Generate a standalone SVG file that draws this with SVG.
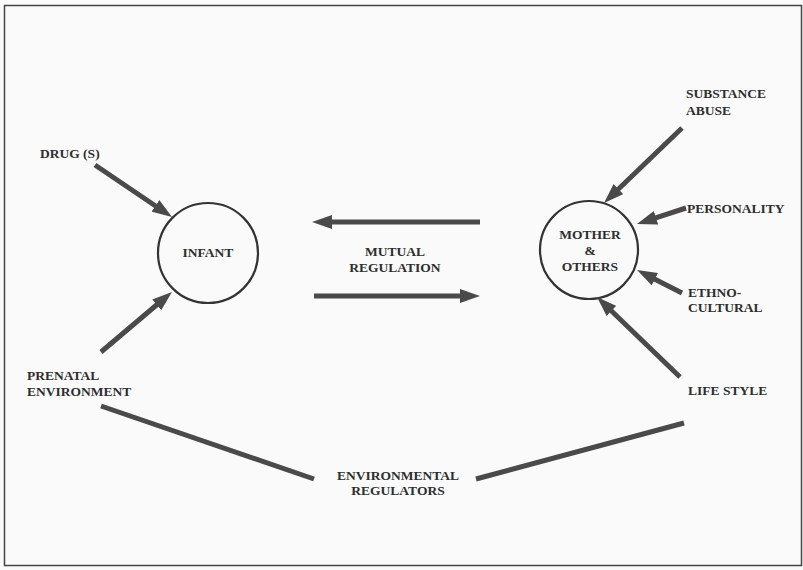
<svg xmlns="http://www.w3.org/2000/svg" width="803" height="570" viewBox="0 0 803 570">
<style>
text{font-family:"Liberation Serif","Times New Roman",serif;font-weight:bold;font-size:13.5px;fill:#2e2e2e}
.c{text-anchor:middle}
.node{fill:none;stroke:#333;stroke-width:2.2}
.arr{stroke:#4a4a4a;stroke-width:5;fill:none;marker-end:url(#ah)}
.ln{stroke:#4a4a4a;stroke-width:5;fill:none}
</style>
<defs>
<marker id="ah" markerUnits="userSpaceOnUse" viewBox="0 0 20 14" markerWidth="20" markerHeight="14" refX="6" refY="7" orient="auto">
<path d="M0,0 L20,7 L0,14 Z" fill="#4a4a4a"/>
</marker>
</defs>
<rect x="0" y="0" width="803" height="570" fill="#fafafa"/>
<rect x="4.5" y="5.5" width="797" height="560" fill="none" stroke="#444" stroke-width="1.5"/>
<g id="infant">
<circle class="node" cx="208" cy="253" r="50"/>
<text class="c" x="208" y="257">INFANT</text>
</g>
<g id="mother">
<circle class="node" cx="589" cy="250" r="49"/>
<text class="c" x="590" y="239">MOTHER</text>
<text class="c" x="590" y="255">&amp;</text>
<text class="c" x="590" y="271">OTHERS</text>
</g>
<g id="drugs"><text x="40" y="158">DRUG (S)</text></g>
<g id="prenatal"><text x="27" y="380">PRENATAL</text><text x="27" y="396">ENVIRONMENT</text></g>
<g id="mutual"><text class="c" x="395" y="256">MUTUAL</text><text class="c" x="395" y="272">REGULATION</text></g>
<g id="substance"><text x="686" y="98">SUBSTANCE</text><text x="686" y="115">ABUSE</text></g>
<g id="personality"><text x="687" y="213">PERSONALITY</text></g>
<g id="ethno"><text x="688" y="297">ETHNO-</text><text x="688" y="312">CULTURAL</text></g>
<g id="lifestyle"><text x="688" y="395">LIFE STYLE</text></g>
<g id="envreg"><text class="c" x="398" y="480">ENVIRONMENTAL</text><text class="c" x="398" y="495">REGULATORS</text></g>
<g id="connectors">
<line class="arr" x1="95" y1="165" x2="160.4" y2="209.2"/>
<line class="arr" x1="101" y1="352" x2="161.3" y2="301"/>
<line class="arr" x1="480" y1="222" x2="326" y2="222"/>
<line class="arr" x1="314" y1="296" x2="466" y2="296"/>
<line class="arr" x1="682" y1="128" x2="614.1" y2="193.3"/>
<line class="arr" x1="686" y1="208" x2="650.3" y2="219.6"/>
<line class="arr" x1="682" y1="293" x2="649.5" y2="276.4"/>
<line class="arr" x1="680" y1="377" x2="607.1" y2="306.7"/>
<line class="ln" x1="101" y1="406" x2="314" y2="479"/>
<line class="ln" x1="476" y1="479" x2="684" y2="423"/>
</g>
</svg>
